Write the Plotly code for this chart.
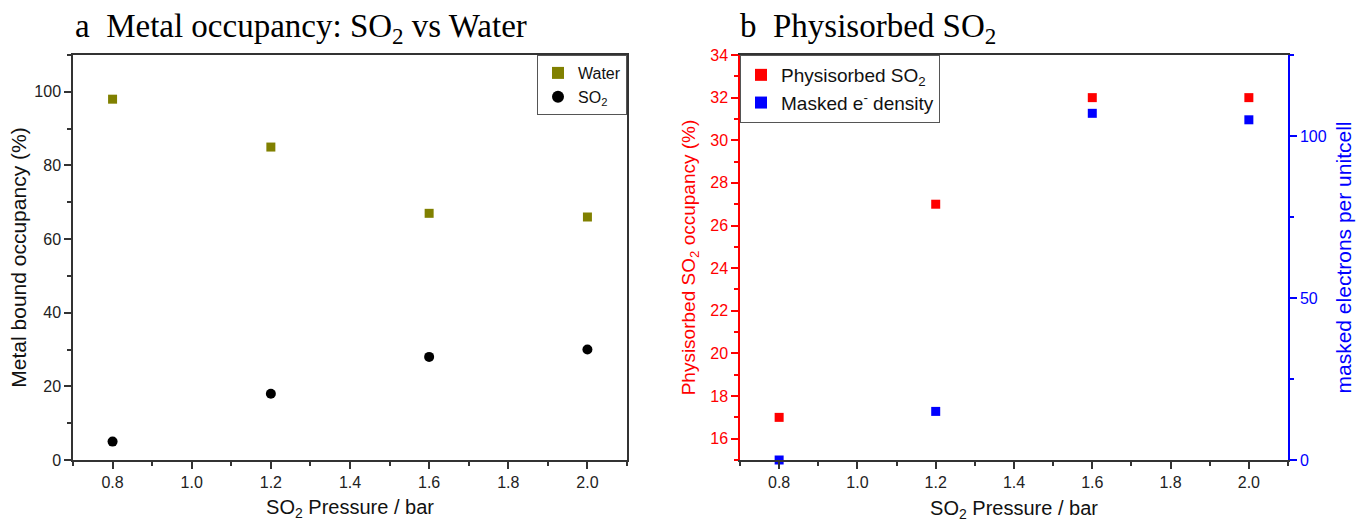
import plotly.graph_objects as go

pressure = [0.8, 1.2, 1.6, 2.0]
water_occ = [98, 85, 67, 66]
so2_occ = [5, 18, 28, 30]
physisorbed_so2 = [17, 27, 32, 32]
masked_density = [0, 15, 107, 105]

W, H = 1356, 522
def px_x(v): return v / W
def px_y(v): return 1 - v / H

TOP, BOT = 55, 460
LX0, LX1 = 73, 627
RX0, RX1 = 740, 1288

FAM = "Liberation Sans, Arial"
tick_font = dict(family=FAM, size=16, color="#222")
xtitle_font = dict(family=FAM, size=20, color="#111")
axcol = "#333"

fig = go.Figure()
fig.add_trace(go.Scatter(x=pressure, y=water_occ, mode="markers", name="Water",
                         marker=dict(symbol="square", size=9, color="#808000"),
                         xaxis="x", yaxis="y", legend="legend"))
fig.add_trace(go.Scatter(x=pressure, y=so2_occ, mode="markers", name="SO<sub>2</sub>",
                         marker=dict(symbol="circle", size=10, color="black"),
                         xaxis="x", yaxis="y", legend="legend"))
fig.add_trace(go.Scatter(x=pressure, y=physisorbed_so2, mode="markers", name="Physisorbed SO<sub>2</sub>",
                         marker=dict(symbol="square", size=9, color="#ff0000"),
                         xaxis="x2", yaxis="y2", legend="legend2"))
fig.add_trace(go.Scatter(x=pressure, y=masked_density, mode="markers", name="Masked e<sup>-</sup> density",
                         marker=dict(symbol="square", size=9, color="#0000ff"),
                         xaxis="x2", yaxis="y3", legend="legend2", cliponaxis=False))

def xaxis_cfg(domain, anchor, standoff):
    return dict(domain=domain, anchor=anchor, range=[0.7, 2.1], dtick=0.2, tick0=0,
                tickformat=".1f", showline=True, linecolor=axcol, linewidth=1.5,
                ticks="outside", ticklen=7, tickwidth=1.5, tickcolor=axcol, mirror=True,
                showgrid=False, zeroline=False, tickfont=tick_font, automargin=False,
                minor=dict(ticks="outside", dtick=0.1, ticklen=4, tickwidth=1.5, tickcolor=axcol),
                title=dict(text="SO<sub>2</sub> Pressure / bar", font=xtitle_font, standoff=standoff))

fig.update_layout(
    width=W, height=H, margin=dict(l=0, r=0, t=0, b=0, autoexpand=False),
    paper_bgcolor="white", plot_bgcolor="white",
    xaxis=xaxis_cfg([px_x(LX0), px_x(LX1)], "y", 10),
    yaxis=dict(domain=[px_y(BOT), px_y(TOP)], anchor="x", range=[0, 110], dtick=20,
               showline=True, linecolor=axcol, linewidth=1.5, mirror=True,
               ticks="outside", ticklen=7, tickwidth=1.5, tickcolor=axcol,
               showgrid=False, zeroline=False, tickfont=tick_font, automargin=False,
               minor=dict(ticks="outside", dtick=10, ticklen=4, tickwidth=1.5, tickcolor=axcol),
               title=dict(text="Metal bound occupancy (%)", font=dict(family=FAM, size=21, color="#111"),
                          standoff=2)),
    xaxis2=xaxis_cfg([px_x(RX0), px_x(RX1)], "y2", 17),
    yaxis2=dict(domain=[px_y(BOT), px_y(TOP)], anchor="x2", range=[15, 34], dtick=2,
                showline=True, linecolor="#ff0000", linewidth=1.5,
                ticks="outside", ticklen=7, tickwidth=1.5, tickcolor="#ff0000",
                showgrid=False, zeroline=False, automargin=False,
                tickfont=dict(family=FAM, size=16, color="#ff0000"),
                minor=dict(ticks="outside", dtick=1, ticklen=4, tickwidth=1.5, tickcolor="#ff0000"),
                title=dict(text="Physisorbed SO<sub>2</sub> occupancy (%)",
                           font=dict(family=FAM, size=19, color="#ff0000"), standoff=10)),
    yaxis3=dict(overlaying="y2", anchor="x2", side="right", range=[0, 125], dtick=50,
                showline=True, linecolor="#0000ff", linewidth=1.5,
                ticks="outside", ticklen=7, tickwidth=1.5, tickcolor="#0000ff",
                showgrid=False, zeroline=False, automargin=False,
                tickfont=dict(family=FAM, size=16, color="#0000ff"),
                minor=dict(ticks="outside", dtick=25, ticklen=4, tickwidth=1.5, tickcolor="#0000ff"),
                title=dict(text="masked electrons per unitcell",
                           font=dict(family=FAM, size=21, color="#0000ff"), standoff=11)),
    legend=dict(x=px_x(LX1), y=px_y(TOP), xanchor="right", yanchor="top",
                bordercolor="#555", borderwidth=1, bgcolor="white",
                font=dict(family=FAM, size=16, color="#111"),
                tracegroupgap=0, itemsizing="constant"),
    legend2=dict(x=px_x(RX0), y=px_y(TOP), xanchor="left", yanchor="top",
                 bordercolor="#555", borderwidth=1, bgcolor="white",
                 font=dict(family=FAM, size=19, color="#111"),
                 tracegroupgap=0, itemsizing="constant"),
    showlegend=True,
    annotations=[
        dict(text="a  Metal occupancy: SO<sub>2</sub> vs Water", x=px_x(73), y=px_y(28),
             xref="paper", yref="paper", xanchor="left", yanchor="middle", showarrow=False,
             font=dict(family="Liberation Serif, Times New Roman", size=33, color="black")),
        dict(text="b  Physisorbed SO<sub>2</sub>", x=px_x(738), y=px_y(28),
             xref="paper", yref="paper", xanchor="left", yanchor="middle", showarrow=False,
             font=dict(family="Liberation Serif, Times New Roman", size=33, color="black")),
    ],
)

fig.write_html("out.html")
